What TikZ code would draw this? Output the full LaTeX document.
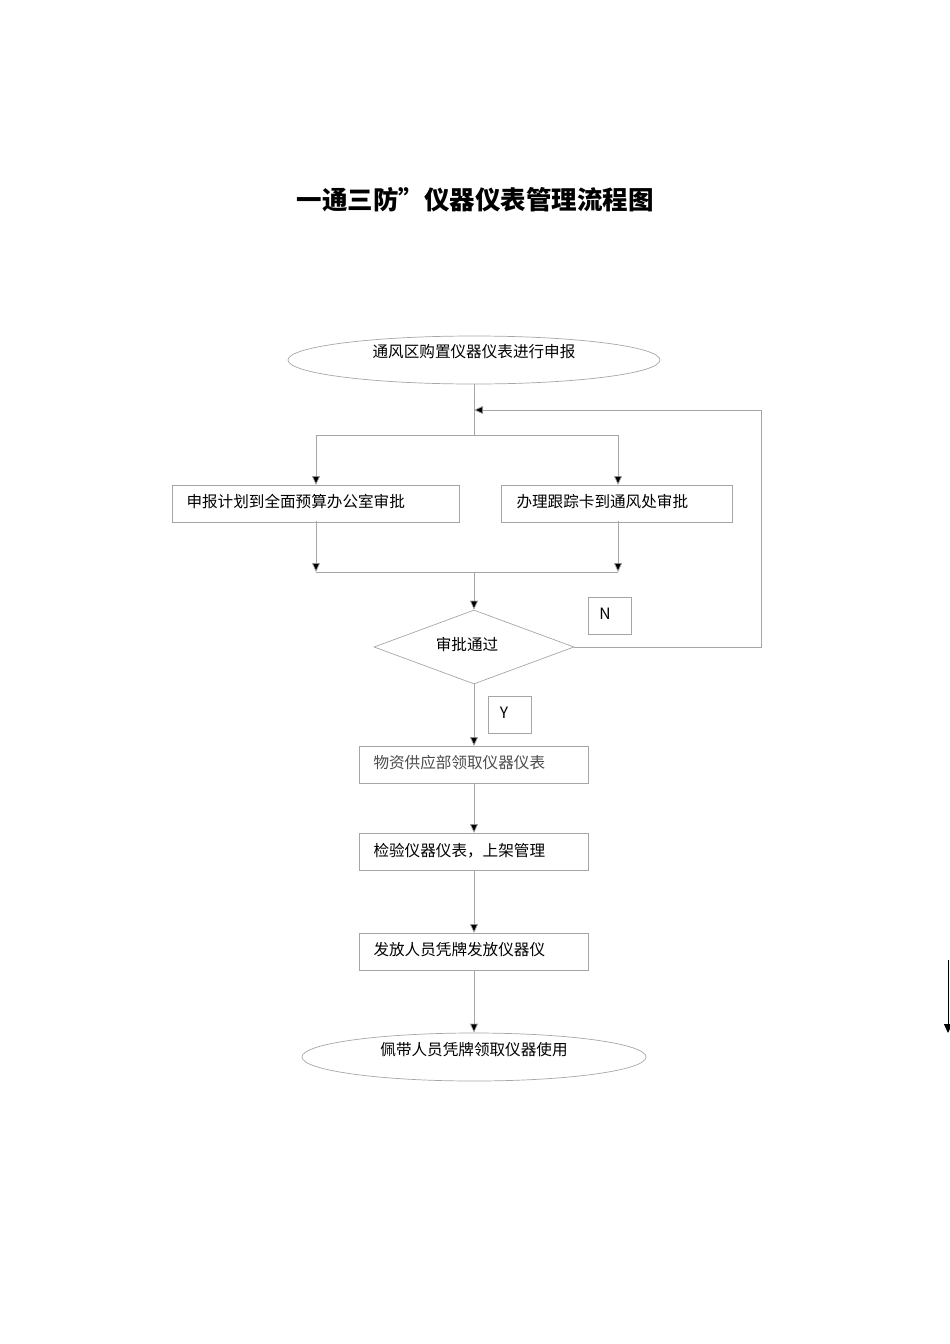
\documentclass[tikz,border=0pt]{standalone}
\usepackage{fontspec}
\newfontfamily\cjk{Noto Sans CJK SC}
\usetikzlibrary{shapes.geometric,arrows.meta}
\begin{document}
\begin{tikzpicture}[x=1pt,y=-1pt,
  ln/.style={draw=black!35,line width=0.7pt},
  ar/.style={ln,-{Triangle[length=9pt,width=8pt,fill=black]}},
  box/.style={ln,rectangle,minimum height=37pt,anchor=north west,inner sep=0pt},
  txt/.style={font=\cjk\fontsize{15.6}{16}\selectfont}]
\useasboundingbox (0,0) rectangle (950,1344);
\node[font=\cjk\bfseries\fontsize{25.5}{27}\selectfont] (title) at (475,200) {一通三防”仪器仪表管理流程图};
\node[ln,ellipse,minimum width=372pt,minimum height=48pt,inner sep=0pt] (e1) at (474,360) {};
\node[txt] at (474,352) {通风区购置仪器仪表进行申报};
\node[box,minimum width=287pt] (b1) at (172,485) {};
\node[txt,anchor=west] at (183,502) {申报计划到全面预算办公室审批};
\node[box,minimum width=231pt] (b2) at (501,485) {};
\node[txt,anchor=west] at (513,502) {办理跟踪卡到通风处审批};
\node[ln,diamond,aspect=2.7,minimum width=200pt,minimum height=74pt,inner sep=0pt] (d) at (474,647) {};
\node[txt] at (467,644) {审批通过};
\node[box,minimum width=43pt] (n) at (588,597) {};
\node[txt] at (605,614) {N};
\node[box,minimum width=43pt] (y) at (488,696) {};
\node[txt] at (504,713) {Y};
\node[box,minimum width=229pt] (b3) at (359,746) {};
\node[txt,anchor=west,text=black!70] at (370,763) {物资供应部领取仪器仪表};
\node[box,minimum width=229pt] (b4) at (359,833) {};
\node[txt,anchor=west] at (370,851) {检验仪器仪表，上架管理};
\node[box,minimum width=229pt] (b5) at (359,933) {};
\node[txt,anchor=west] at (370,950) {发放人员凭牌发放仪器仪};
\node[ln,ellipse,minimum width=344pt,minimum height=48pt,inner sep=0pt] (e2) at (474,1057) {};
\node[txt] at (474,1050) {佩带人员凭牌领取仪器使用};
\coordinate (j1) at (474,435);
\coordinate (j2) at (474,572);
\coordinate (r1) at (761,647);
\coordinate (r2) at (761,410);
\coordinate (r3) at (474,410);
\coordinate (s1) at (948,960);
\coordinate (s2) at (948,1033);
\draw[ln] (e1.south) -- (j1);
\draw[ln] (316,435) -- (618,435);
\draw[ar] (316,435) -- (316,485);
\draw[ar] (618,435) -- (618,485);
\draw[ar] (316,521) -- (316,572);
\draw[ar] (618,521) -- (618,572);
\draw[ln] (316,572) -- (618,572);
\draw[ar] (j2) -- (d.north);
\draw[ar] (d.east) -- (r1) -- (r2) -- (r3);
\draw[ar] (d.south) -- (b3.north west -| d.south);
\draw[ar] (474,783) -- (474,833);
\draw[ar] (474,870) -- (474,933);
\draw[ar] (474,970) -- (e2.north);
\draw[-{Triangle[length=9pt,width=8pt]},line width=1pt] (s1) -- (s2);
\end{tikzpicture}
\end{document}
